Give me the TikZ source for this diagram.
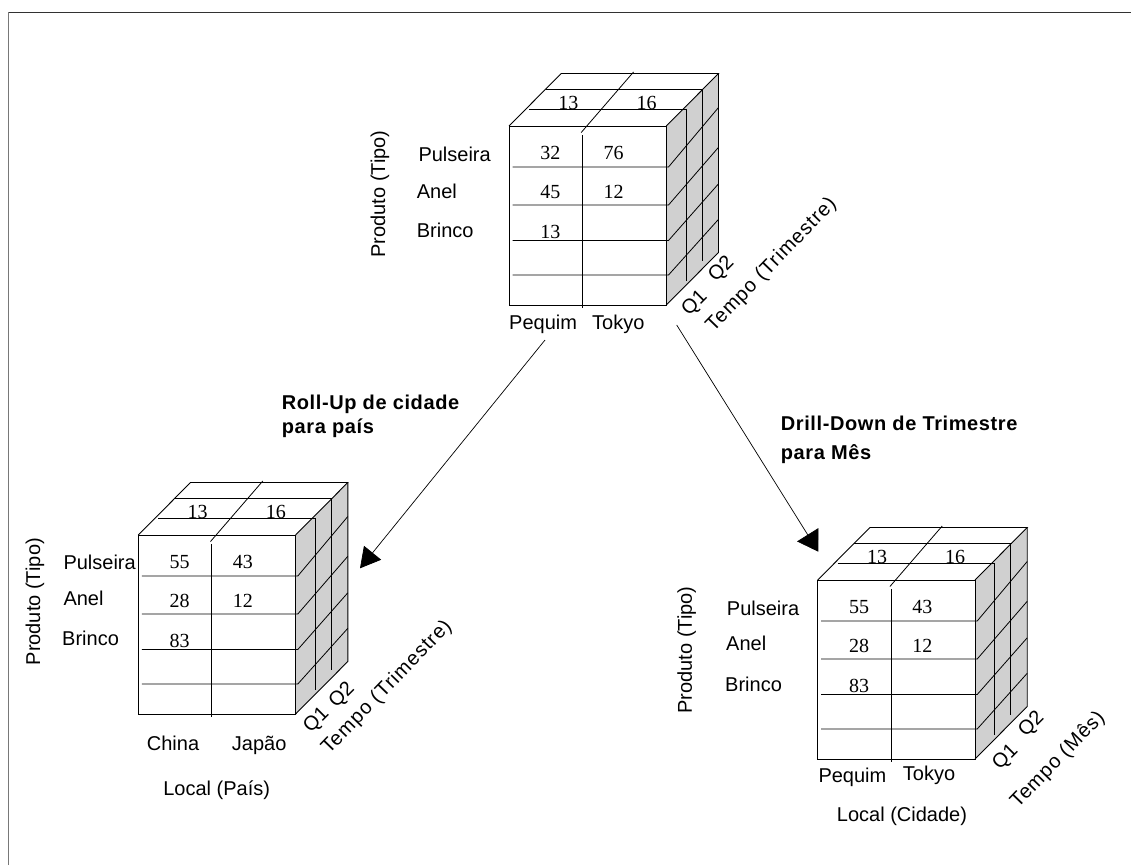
\documentclass[tikz,border=0pt]{standalone}
\usepackage{fontspec}
\setmainfont{Liberation Sans}
\newfontfamily\numfont{Liberation Serif}
\usetikzlibrary{arrows.meta}
\definecolor{sidegray}{RGB}{208,208,208}
\definecolor{framedark}{RGB}{50,50,50}
\definecolor{framegray}{RGB}{120,120,120}
\tikzset{
  lbl/.style={font=\fontsize{20}{24}\selectfont, inner sep=0pt},
  widelbl/.style={font=\fontsize{20}{24}\selectfont\addfontfeatures{LetterSpace=5}, inner sep=0pt},
  num/.style={font=\numfont\fontsize{20}{24}\selectfont, inner sep=0pt, anchor=base},
  boldlbl/.style={font=\bfseries\fontsize{20}{24}\selectfont\addfontfeatures{LetterSpace=3}, inner sep=0pt, anchor=base west},
  cubeedge/.style={line width=0.9pt, line join=miter},
  cubegrid/.style={line width=0.8pt},
  conn/.style={line width=0.7pt},
}
\newcommand\olapcube[8]{%
\begin{scope}[shift={(#2,#3)}]
  \fill[sidegray] (157.3,0) -- (209.5,-52.5) -- (209.5,126.5) -- (157.3,179) -- cycle;
  \draw[cubegrid] (20,-17) -- (177,-17);
  \draw[cubegrid] (36.5,-36.7) -- (194,-36.7);
  \draw[cubegrid] (124.5,-54) -- (72.2,6.5);
  \draw[cubegrid] (73.3,9) -- (73.3,181.5);
  \draw[cubegrid] (177,-17) -- (177,155.3);
  \draw[cubegrid] (193,-36.7) -- (193,135.3);
  \foreach \r/\d in {41/59.5, 79/57.7, 114.5/56.7, 149/55.7}
    \draw[cubegrid] (3.5,\r) -- (159.5,\r) -- (209.5,\r-\d);
  \draw[cubeedge] (0,0) rectangle (157.3,179);
  \draw[cubeedge] (0,0) -- (52.2,-52.5) -- (209.5,-52.5) -- (157.3,0);
  \draw[cubeedge] (209.5,-52.5) -- (209.5,126.5) -- (157.3,179);
  \node[num] (#1-t1) at (59.3,-16.5) {13};
  \node[num] (#1-t2) at (137.5,-16.5) {16};
  \node[num] (#1-a1) at (41.3,33.7) {#4};
  \node[num] (#1-a2) at (104.6,33.7) {#5};
  \node[num] (#1-b1) at (41.3,72.5) {#6};
  \node[num] (#1-b2) at (104.6,72.5) {#7};
  \node[num] (#1-c1) at (41.3,112) {#8};
\end{scope}}
\begin{document}
\begin{tikzpicture}[x=1pt,y=-1pt]
\useasboundingbox (0,0) rectangle (1131,865);
\fill[white] (0,0) rectangle (1131,865);
% frame
\draw[framegray, line width=1pt] (8.5,865) -- (8.5,12.3);
\draw[framedark, line width=1pt] (8.5,12.3) -- (1131,12.3);

% ---- top cube ----
\olapcube{top}{509}{126}{32}{76}{45}{12}{13}
\node[lbl, rotate=90] (top-prod) at (380,194) {Produto (Tipo)};
\node[lbl, anchor=base west] (top-pul) at (418.3,161.7) {Pulseira};
\node[lbl, anchor=base west] (top-anel) at (416.7,198.3) {Anel};
\node[lbl, anchor=base west] (top-brin) at (416.7,237.3) {Brinco};
\node[lbl, anchor=base west] (top-peq) at (509,329.5) {Pequim};
\node[lbl, anchor=base west] (top-tok) at (592,329.5) {Tokyo};
\node[lbl, rotate=45] (top-q1) at (695,303.3) {Q1};
\node[lbl, rotate=45] (top-q2) at (721.7,269) {Q2};
\node[widelbl, rotate=46] (top-tempo) at (771.7,265) {Tempo (Trimestre)};

% ---- left cube ----
\olapcube{left}{138.3}{535}{55}{43}{28}{12}{83}
\node[lbl, rotate=90] (left-prod) at (35,601.7) {Produto (Tipo)};
\node[lbl, anchor=base west] (left-pul) at (63.3,569.3) {Pulseira};
\node[lbl, anchor=base west] (left-anel) at (63.3,605) {Anel};
\node[lbl, anchor=base west] (left-brin) at (62,645) {Brinco};
\node[lbl, anchor=base west] (left-chi) at (146.7,750) {China};
\node[lbl, anchor=base west] (left-jap) at (231.7,750) {Japão};
\node[lbl, anchor=base] (left-local) at (216.7,795) {Local (País)};
\node[lbl, rotate=45] (left-q1) at (316.7,720.7) {Q1};
\node[lbl, rotate=45] (left-q2) at (342.3,695) {Q2};
\node[widelbl, rotate=46] (left-tempo) at (387,687.5) {Tempo (Trimestre)};

% ---- right cube ----
\olapcube{right}{817.7}{580}{55}{43}{28}{12}{83}
\node[lbl, rotate=90] (right-prod) at (686.7,650) {Produto (Tipo)};
\node[lbl, anchor=base west] (right-pul) at (726.7,615) {Pulseira};
\node[lbl, anchor=base west] (right-anel) at (726,650) {Anel};
\node[lbl, anchor=base west] (right-brin) at (725,691.7) {Brinco};
\node[lbl, anchor=base west] (right-peq) at (818.3,782.7) {Pequim};
\node[lbl, anchor=base west] (right-tok) at (902.7,780.5) {Tokyo};
\node[lbl, anchor=base] (right-local) at (902,821.7) {Local (Cidade)};
\node[lbl, rotate=45] (right-q1) at (1005.7,757.3) {Q1};
\node[lbl, rotate=45] (right-q2) at (1031.7,724) {Q2};
\node[widelbl, rotate=46] (right-tempo) at (1058,760) {Tempo (Mês)};

% ---- operation labels ----
\node[boldlbl] (ru1) at (281.7,409.3) {Roll-Up de cidade};
\node[boldlbl] (ru2) at (281.7,433.3) {para país};
\node[boldlbl] (dd1) at (780.7,430) {Drill-Down de Trimestre};
\node[boldlbl] (dd2) at (780.7,459.3) {para Mês};

% ---- connectors ----
\coordinate (ru-start) at (545,340);
\coordinate (ru-end) at (360,568.3);
\coordinate (dd-start) at (676.7,325);
\coordinate (dd-end) at (818.3,551.7);
\draw[conn, -{Triangle[length=20pt,width=22pt]}] (ru-start) -- (ru-end);
\draw[conn, -{Triangle[length=20pt,width=25pt]}] (dd-start) -- (dd-end);
\end{tikzpicture}
\end{document}
